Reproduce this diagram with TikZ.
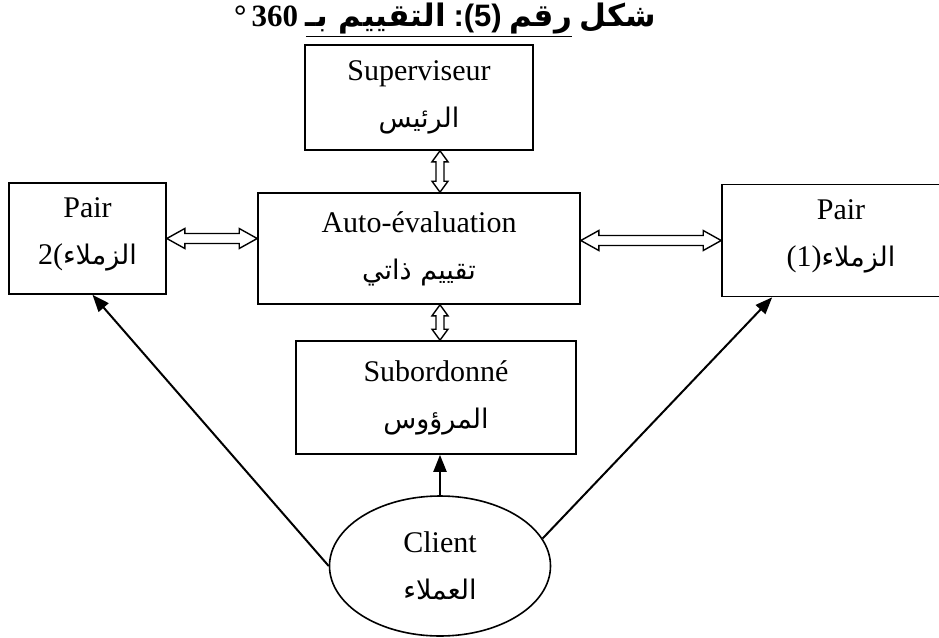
\documentclass[tikz,border=0pt]{standalone}
\usepackage{fontspec}
\setmainfont{Liberation Serif}
\newfontfamily\arabicfont[Script=Arabic]{DejaVu Sans}
\newfontfamily\sansbold{Liberation Sans}
\TeXXeTstate=1
\usetikzlibrary{arrows.meta,calc,shapes.geometric}

% open double-headed arrows drawn as outlines
\newcommand\hdoublearrow[2]{%
  \draw[dblarrow] let \p1=#1, \p2=#2 in
    (\x1,\y1) -- ++(18pt,10pt) -- ++(0,-5pt) -- (\x2-18pt,\y1+5pt) -- ++(0,5pt)
    -- (\x2,\y1) -- ++(-18pt,-10pt) -- ++(0,5pt) -- (\x1+18pt,\y1-5pt)
    -- ++(0,-5pt) -- cycle;}
\newcommand\vdoublearrow[2]{%
  \draw[dblarrow] let \p1=#1, \p2=#2 in
    (\x1,\y1) -- ++(8pt,-11pt) -- ++(-4pt,0) -- (\x1+4pt,\y2+11pt) -- ++(4pt,0)
    -- (\x1,\y2) -- ++(-8pt,11pt) -- ++(4pt,0) -- (\x1-4pt,\y1-11pt)
    -- ++(-4pt,0) -- cycle;}

\tikzset{
  box/.style={draw, line width=1.6pt, rectangle, align=center, inner sep=0pt,
              font=\fontsize{30}{47}\selectfont},
  oval/.style={draw, line width=1.6pt, ellipse, align=center, inner sep=0pt,
               minimum width=221pt, minimum height=140pt,
               font=\fontsize{30}{47}\selectfont},
  dblarrow/.style={draw, line width=1.4pt, fill=white, line join=miter},
  feed/.style={line width=2pt, -{Triangle[length=17pt,width=13pt]}}
}
\newcommand\ar[1]{{\arabicfont\fontsize{27}{47}\selectfont\beginR #1\endR}}

\begin{document}
\begin{tikzpicture}[x=1pt,y=-1pt]
  \useasboundingbox (0,0) rectangle (939,637);

  % title
  \node (title) at (445,20) {\fontsize{31}{34}\selectfont\bfseries
    °\,360 \underline{{\arabicfont\beginR التقييم بـ\endR}\ {\sansbold :(5)}\ {\arabicfont رقم}}\ {\arabicfont شكل}};

  % boxes
  \node[box, minimum width=228pt, minimum height=105pt] (sup) at (419,97.5)
    {Superviseur\\\ar{الرئيس}};
  \node[box, minimum width=322pt, minimum height=111pt] (auto) at (419,248.5)
    {Auto-évaluation\\\ar{تقييم ذاتي}};
  \node[box, minimum width=157pt, minimum height=111pt] (lbox) at (87.5,238.5)
    {Pair\\\strut 2(\ar{الزملاء}};
  \node[box, minimum width=260pt, minimum height=112pt] (rbox) at (852,240.5)
    {\hspace*{-22pt}Pair\\\hspace*{-22pt}\strut (1)\ar{الزملاء}};
  \node[box, minimum width=280pt, minimum height=113pt] (sub) at (436,397.5)
    {Subordonné\\\ar{المرؤوس}};
  \node[oval] (cli) at (440,566) {Client\\\ar{العملاء}};

  % links between the self-evaluation and the other raters
  \vdoublearrow{(sup.south -| cli.north)}{(auto.north -| cli.north)}
  \vdoublearrow{(auto.south -| cli.north)}{(sub.north -| cli.north)}
  \hdoublearrow{(lbox.east)}{(auto.west |- lbox.east)}
  \hdoublearrow{(auto.east |- rbox.west)}{(rbox.west)}

  % client feedback
  \draw[feed] (cli.north) -- (sub.south -| cli.north);
  \draw[feed] (cli.west) -- ($(lbox.south)+(5,0)$);
  \draw[feed] (cli.15) -- ($(rbox.south west)+(51,0)$);
\end{tikzpicture}
\end{document}
